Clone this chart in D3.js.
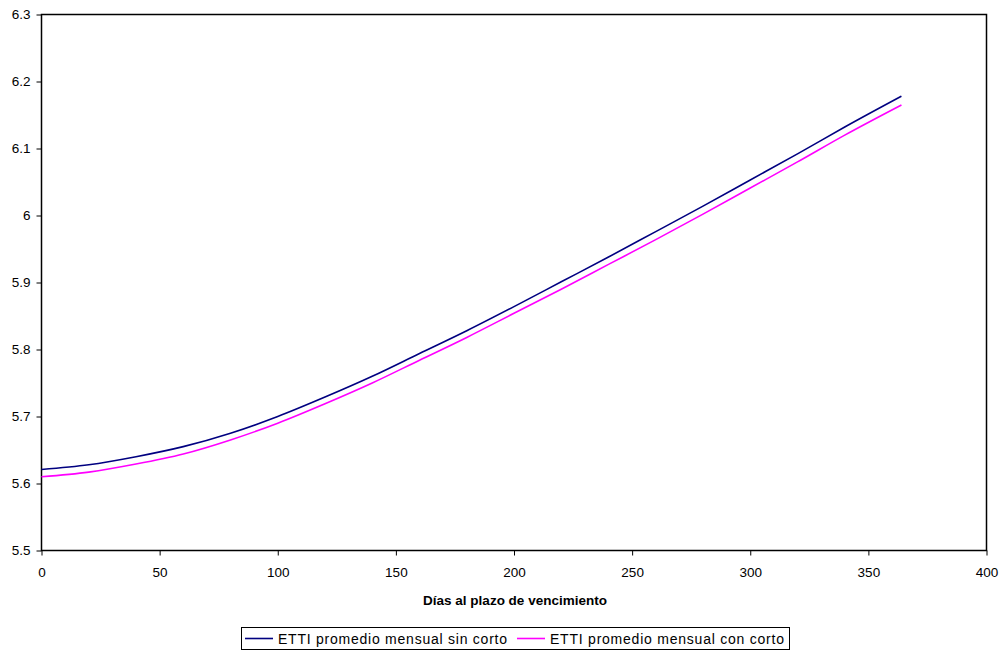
<!DOCTYPE html>
<html><head><meta charset="utf-8">
<script src="https://cdn.jsdelivr.net/npm/d3@7"></script>
<style>body{margin:0;background:#fff}svg{display:block}text{font-family:"Liberation Sans",Arial,sans-serif}</style>
</head><body><svg id="c" width="1005" height="651"></svg>
<script>
const days = [0,20,40,60,80,100,120,140,160,180,200,220,240,260,280,300,320,340,364];
const sinCorto = [5.621,5.628,5.640,5.655,5.675,5.700,5.729,5.760,5.794,5.828,5.864,5.901,5.938,5.976,6.014,6.053,6.092,6.132,6.178];
const conCorto = [5.610,5.617,5.629,5.644,5.665,5.690,5.719,5.750,5.784,5.818,5.854,5.890,5.927,5.964,6.002,6.041,6.080,6.120,6.165];
const xTicks = [0,50,100,150,200,250,300,350,400];
const yTicks = [5.5,5.6,5.7,5.8,5.9,6.0,6.1,6.2,6.3];
const seriesNames = ["ETTI promedio mensual sin corto","ETTI promedio mensual con corto"];
const colors = ["#000080","#FF00FF"];

const svg = d3.select("#c");
const L=41.5, R=986.5, T=14.5, B=550.5;
const x = d3.scaleLinear().domain([0,400]).range([L,R]);
const y = d3.scaleLinear().domain([5.5,6.3]).range([B,T]);

svg.append("rect").attr("x",L).attr("y",T).attr("width",R-L).attr("height",B-T)
  .attr("fill","none").attr("stroke","#000").attr("stroke-width",1.5);

const xa = svg.append("g").attr("transform",`translate(0,${B})`)
  .call(d3.axisBottom(x).tickValues(xTicks).tickFormat(d3.format("d")).tickSize(5).tickPadding(12));
const ya = svg.append("g").attr("transform",`translate(${L},0)`)
  .call(d3.axisLeft(y).tickValues(yTicks).tickFormat(d=>d===6?"6":d3.format(".1f")(d)).tickSize(5).tickPadding(6));
[xa,ya].forEach(a=>{a.select(".domain").remove();a.selectAll("line").attr("stroke","#000");
  a.selectAll("text").attr("font-size",13.5).attr("fill","#000").style("font-family","'Liberation Sans',Arial,sans-serif");});

const line = d3.line().x((d,i)=>x(days[i])).y(d=>y(d)).curve(d3.curveMonotoneX);
[sinCorto,conCorto].forEach((s,k)=>{
  svg.append("path").attr("d",line(s)).attr("fill","none").attr("stroke",colors[k]).attr("stroke-width",1.6);
});

svg.append("text").attr("x",515).attr("y",605).attr("text-anchor","middle")
  .attr("font-size",13.5).attr("font-weight","bold").text("Días al plazo de vencimiento");

const lg = svg.append("g");
lg.append("rect").attr("x",241.5).attr("y",627.5).attr("width",548).attr("height",22)
  .attr("fill","#fff").attr("stroke","#000").attr("stroke-width",1);
const lx=[245,517], tw=[229,234];
seriesNames.forEach((n,k)=>{
  lg.append("line").attr("x1",lx[k]).attr("x2",lx[k]+28).attr("y1",638.5).attr("y2",638.5)
    .attr("stroke",colors[k]).attr("stroke-width",1.6);
  lg.append("text").attr("x",lx[k]+33).attr("y",643.5).attr("font-size",14)
    .attr("textLength",tw[k]).attr("lengthAdjust","spacing").text(n);
});
</script></body></html>
